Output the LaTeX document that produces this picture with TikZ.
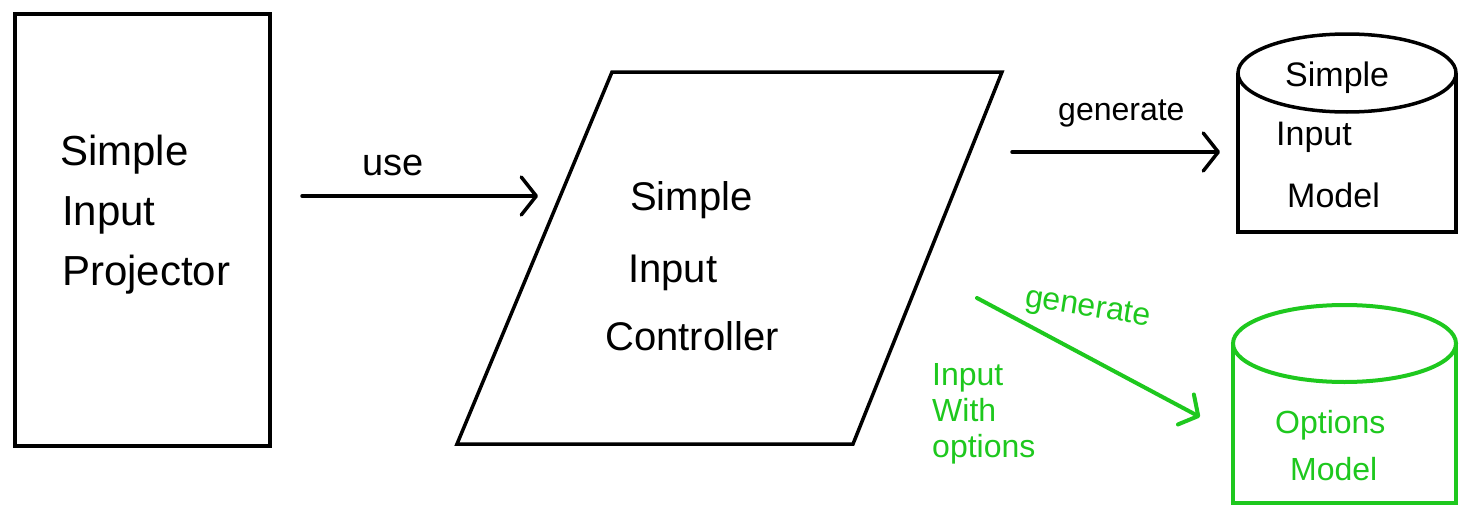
\documentclass[tikz,border=0pt]{standalone}
\usepackage{fontspec}
\setmainfont{Liberation Sans}
\usetikzlibrary{arrows.meta}
\definecolor{hgreen}{RGB}{30,200,30}
\begin{document}
\begin{tikzpicture}[x=1pt,y=-1pt,
  shapeline/.style={draw=black,line width=3.5pt,line join=miter},
  gshape/.style={draw=hgreen,line width=4pt},
  conn/.style={line width=3.5pt,line cap=round,-{Straight Barb[length=15pt,width=38pt,round]}},
  gconn/.style={draw=hgreen,line width=4pt,line cap=round,-{Straight Barb[length=14pt,width=34pt,round]}},
  txt/.style={anchor=base west,inner sep=0pt},
  big/.style={txt,font=\fontsize{42}{50}\selectfont},
  mid/.style={txt,font=\fontsize{40}{48}\selectfont},
  small/.style={txt,font=\fontsize{34}{40}\selectfont},
  gsmall/.style={txt,text=hgreen,font=\fontsize{32}{38}\selectfont}]
\useasboundingbox (0,0) rectangle (1459,506);
% projector box
\draw[shapeline] (15,14) rectangle (270,446);
\node[big] (p1) at (60,165) {Simple};
\node[big] (p2) at (62,225) {Input};
\node[big] (p3) at (62,285) {Projector};
% controller parallelogram
\draw[shapeline] (612,72) -- (1002,72) -- (853,444) -- (457,444) -- cycle;
\node[mid] (c1) at (630,210) {Simple};
\node[mid] (c2) at (628,282) {Input};
\node[mid] (c3) at (605,350) {Controller};
% use arrow
\coordinate (u1) at (302,196);
\coordinate (u2) at (538,196);
\draw[conn] (u1) -- (u2);
\node[txt,font=\fontsize{38}{44}\selectfont] (use) at (362,175) {use};
% generate arrow
\coordinate (g1) at (1012,152);
\coordinate (g2) at (1220,152);
\draw[conn] (g1) -- (g2);
\node[txt,font=\fontsize{32}{38}\selectfont] (gen) at (1058,120) {generate};
% black cylinder
\draw[shapeline] (1238,73) -- (1238,232) -- (1456,232) -- (1456,73);
\draw[shapeline] (1347,73) ellipse [x radius=109, y radius=39];
\node[small] (m1) at (1285,86) {Simple};
\node[small] (m2) at (1276,145) {Input};
\node[small] (m3) at (1287,207) {Model};
% green arrow
\coordinate (h1) at (977,298);
\coordinate (h2) at (1200,417);
\draw[gconn] (h1) -- (h2);
\node[gsmall,rotate=-9] (ggen) at (1024,306) {generate};
\node[gsmall] (w1) at (932,385) {Input};
\node[gsmall] (w2) at (932,421) {With};
\node[gsmall] (w3) at (932,457) {options};
% green cylinder
\draw[gshape] (1233,343) -- (1233,503) -- (1456,503) -- (1456,343);
\draw[gshape] (1344.5,343.5) ellipse [x radius=111.5, y radius=38.5];
\node[gsmall] (o1) at (1275,433) {Options};
\node[gsmall] (o2) at (1290,480) {Model};
\end{tikzpicture}
\end{document}
